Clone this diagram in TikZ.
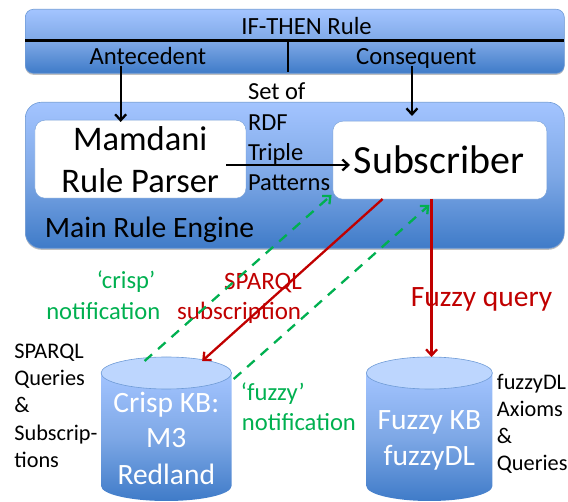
\documentclass[tikz,border=0pt]{standalone}
\usepackage{fontspec}
\setmainfont{Carlito}
\usetikzlibrary{arrows.meta,shadows}
\definecolor{blueT}{HTML}{A3C4FF}
\definecolor{blueM}{HTML}{7EA8E6}
\definecolor{blueB}{HTML}{3F7BC8}
\definecolor{edgeB}{HTML}{6F9BD6}
\definecolor{capB}{HTML}{BDD6FE}
\definecolor{redL}{HTML}{C00000}
\definecolor{greenL}{HTML}{00B050}
\tikzset{
  x=1.087pt,y=-1pt,
  panel/.style={draw=edgeB,line width=0.6pt,top color=blueT,bottom color=blueB,middle color=blueM,
    inner sep=0pt,anchor=north west,
    drop shadow={shadow xshift=0pt,shadow yshift=-1.5pt,opacity=0.25,fill=black}},
  whitebox/.style={draw=edgeB,line width=0.4pt,fill=white,rounded corners=10pt,inner sep=0pt,anchor=north west},
  divider/.style={line width=2.2pt,black},
  blk/.style={line width=2.3pt,black,-{Straight Barb[length=6pt,width=11pt]}},
  redarrow/.style={line width=2.3pt,redL,-{Straight Barb[length=6pt,width=11pt]}},
  greenarrow/.style={line width=2.3pt,greenL,dash pattern=on 10pt off 8pt,-{Straight Barb[length=6pt,width=11pt]}},
  txt/.style={inner sep=0pt,anchor=base,yshift=-2pt,font=\fontsize{24.7}{24.7}\selectfont},
  txtl/.style={inner sep=0pt,anchor=base west,yshift=-2pt,font=\fontsize{22.3}{22.3}\selectfont},
  setl/.style={inner sep=0pt,anchor=base west,yshift=-2pt,font=\fontsize{24.5}{24.5}\selectfont},
  big/.style={txt,font=\fontsize{34.5}{34.5}\selectfont},
  green/.style={txt,text=greenL,font=\fontsize{24.6}{24.6}\selectfont},
  redt/.style={txt,text=redL,font=\fontsize{25}{25}\selectfont},
  cyl/.style={txt,text=white,font=\fontsize{29.5}{29.5}\selectfont},
  cylbody/.style={draw=none,top color=blueT,bottom color=blueB,middle color=blueM},
  cylcap/.style={draw=edgeB,line width=0.6pt,fill=capB},
}
\begin{document}
\begin{tikzpicture}
\useasboundingbox (0,0) rectangle (522.54,502);
% panels
\node[panel,rounded corners=8pt,minimum width=539pt,minimum height=64pt] (rule) at (23,9) {};
\node[panel,rounded corners=16pt,minimum width=539pt,minimum height=146pt] (engine) at (23,102) {};
\node[whitebox,minimum width=211pt,minimum height=78pt] (parser) at (32,120) {};
\node[whitebox,minimum width=214pt,minimum height=78pt] (subscriber) at (306,121) {};
% rule dividers
\coordinate (dl) at (23,40.5); \coordinate (dr) at (519,40.5);
\coordinate (dt) at (265,40.5); \coordinate (db) at (265,72);
\draw[divider] (dl) -- (dr);
\draw[divider] (dt) -- (db);
% cylinders
\path[cylbody] (93,373) -- (93,486) arc[start angle=180,end angle=0,x radius=60,y radius=15] -- (213,373) -- cycle;
\draw[cylcap] (153,373) ellipse[x radius=60,y radius=16];
\path[cylbody] (337,373) -- (337,486) arc[start angle=180,end angle=0,x radius=58,y radius=15] -- (453,373) -- cycle;
\draw[cylcap] (395,373) ellipse[x radius=58,y radius=16];
% connector ends
\coordinate (aS) at (111,66); \coordinate (aE) at (111,122);
\coordinate (cS) at (379,66); \coordinate (cE) at (379,116);
\coordinate (pS) at (208,165); \coordinate (pE) at (322,165);
\coordinate (g1S) at (133,361); \coordinate (g1E) at (305,195);
\coordinate (g2S) at (215,379); \coordinate (g2E) at (395,205);
\coordinate (r1S) at (352,199); \coordinate (r1E) at (186,361);
\coordinate (r2S) at (397,199); \coordinate (r2E) at (397,357);
% text
\node[txt] (t1) at (282,33) {IF-THEN Rule};
\node[txt] (t2) at (136,63) {Antecedent};
\node[txt] (t3) at (383,63) {Consequent};
\node[big] (t4) at (129,149) {Mamdani};
\node[big] (t5) at (129,191) {Rule Parser};
\node[big,font=\fontsize{40}{40}\selectfont] (t6) at (404,172) {Subscriber};
\node[txt,anchor=base west,font=\fontsize{29.6}{29.6}\selectfont] (t7) at (41,236) {Main Rule Engine};
\node[setl] (s1) at (228,98) {Set of};
\node[setl] (s2) at (228,129) {RDF};
\node[setl] (s3) at (228,159) {Triple};
\node[setl] (s4) at (228,189) {Patterns};
\node[green] (g1) at (116,287) {‘crisp’};
\node[green] (g2) at (95,318) {notification};
\node[redt] (r1) at (242,288) {SPARQL};
\node[redt] (r2) at (220,318) {subscription};
\node[redt,font=\fontsize{29.5}{29.5}\selectfont] (r3) at (443,305) {Fuzzy query};
\node[green] (g3) at (251,399) {‘fuzzy’};
\node[green] (g4) at (275,429) {notification};
\node[cyl] (c1) at (153,411) {Crisp KB:};
\node[cyl] (c2) at (153,446) {M3};
\node[cyl] (c3) at (153,483) {Redland};
\node[cyl] (c4) at (395,428) {Fuzzy KB};
\node[cyl] (c5) at (395,464) {fuzzyDL};
\node[txtl] (l1) at (13,357) {SPARQL};
\node[txtl] (l2) at (13,384) {Queries};
\node[txtl] (l3) at (13,411) {\&};
\node[txtl] (l4) at (13,439) {Subscrip-};
\node[txtl] (l5) at (13,466) {tions};
\node[txtl] (f1) at (457,388) {fuzzyDL};
\node[txtl] (f2) at (457,415) {Axioms};
\node[txtl] (f3) at (457,442) {\&};
\node[txtl] (f4) at (457,469) {Queries};
% connectors
\draw[blk] (aS) -- (aE);
\draw[blk] (cS) -- (cE);
\draw[blk] (pS) -- (pE);
\draw[greenarrow] (g1S) -- (g1E);
\draw[greenarrow] (g2S) -- (g2E);
\draw[redarrow] (r1S) -- (r1E);
\draw[redarrow] (r2S) -- (r2E);
\end{tikzpicture}
\end{document}
